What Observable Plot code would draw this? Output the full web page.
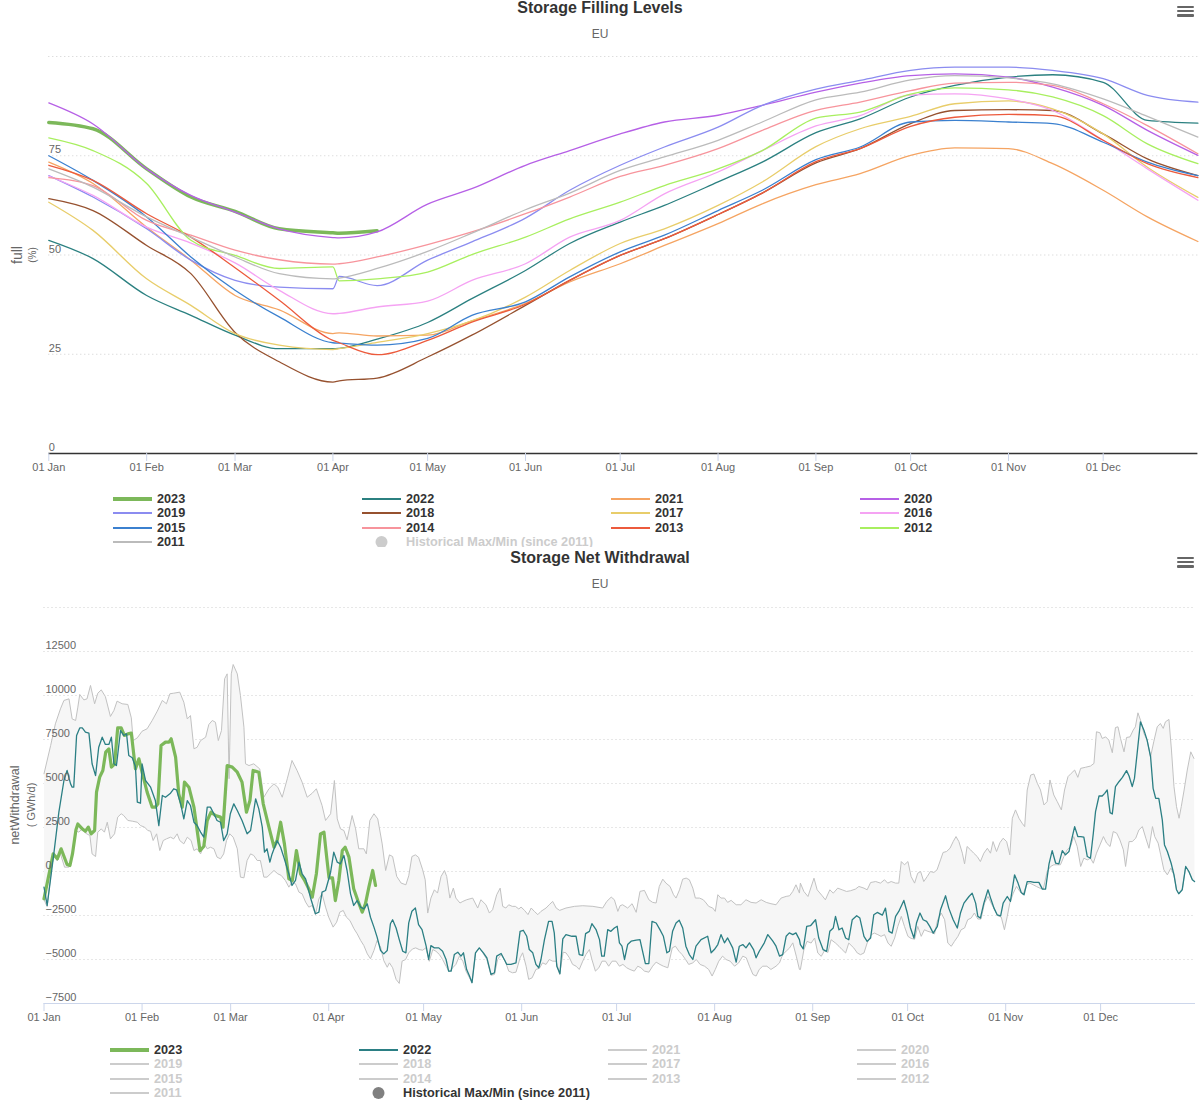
<!DOCTYPE html>
<html><head><meta charset="utf-8">
<script src="https://cdn.jsdelivr.net/npm/d3@7"></script>
<script src="https://cdn.jsdelivr.net/npm/@observablehq/plot@0.6"></script>
<style>
body{margin:0;background:#fff;font-family:"Liberation Sans",Arial,sans-serif;}
#root{position:relative;width:1200px;height:1105px;overflow:hidden;background:#fff;}
.abs{position:absolute;}
.ttl{left:0;width:1200px;text-align:center;font-weight:bold;font-size:16px;line-height:16px;color:#333;}
.sub{left:0;width:1200px;text-align:center;font-size:12px;line-height:14px;color:#666;}
.lg{font-weight:bold;font-size:12.7px;line-height:16px;white-space:nowrap;}
.yt{white-space:nowrap;color:#666;transform:translate(-50%,-50%) rotate(-90deg);}
</style></head><body><div id="root"></div>
<script>
// ---------- Storage Filling Levels (% full), sampled days of year ----------
const fillDays = [0,14,31,45,59,73,90,92,104,120,134,151,165,181,195,212,226,243,257,273,287,304,318,334,348,364];
const fill2023 = [83.4,81.8,71.7,64.6,61.0,56.6,55.6,55.5,56.1];
const fill2022 = [53.7,49.1,39.8,34.8,29.8,26.4,26.4,26.5,28.8,33.0,39.0,46.1,52.9,58.3,62.5,68.4,73.4,80.8,84.3,89.8,92.7,94.8,95.4,93.5,83.9,83.2];
const fill2021 = [73.4,68.0,57.0,48.7,39.8,36.2,30.2,30.4,29.6,29.8,33.4,37.8,43.2,47.8,52.4,57.9,62.9,67.7,70.5,75.1,77.0,76.8,73.0,66.3,59.6,53.4];
const fill2020 = [88.3,83.0,71.7,65.0,60.8,56.6,54.4,54.3,55.8,62.8,66.7,72.6,76.3,80.5,83.5,85.2,87.7,91.0,93.3,95.2,95.6,94.8,92.3,87.7,81.4,75.1];
const fill2019 = [70.0,64.6,56.6,48.7,43.6,41.9,41.5,44.6,42.3,48.7,53.3,59.3,66.3,72.6,77.2,82.2,87.7,91.8,94.0,96.5,97.3,97.3,96.5,94.4,90.2,88.5];
const fill2018 = [64.2,61.2,52.4,45.3,30.5,23.1,18.0,18.3,19.0,24.3,29.8,37.3,43.6,49.9,54.1,60.2,65.6,73.2,76.8,83.1,86.4,86.6,86.4,80.5,74.2,70.0];
const fill2017 = [63.3,56.2,44.0,37.3,30.2,27.3,26.2,26.4,28.0,30.2,33.4,39.4,46.1,52.9,56.6,62.5,68.4,77.3,81.8,84.9,88.1,88.8,86.8,80.5,72.1,64.5];
const fill2016 = [69.9,65.0,57.0,53.0,48.0,41.1,35.2,35.3,36.9,38.4,43.6,47.8,54.5,58.7,65.4,70.9,76.3,82.5,85.1,90.3,90.6,89.3,86.4,78.9,71.7,63.8];
const fill2015 = [75.0,68.8,59.6,49.5,41.1,34.4,27.9,27.8,27.3,29.0,34.8,38.2,44.5,50.8,55.0,61.2,66.3,74.0,77.2,83.5,83.9,83.5,83.1,78.4,73.4,70.0];
const fill2014 = [69.5,67.5,58.7,55.0,51.2,48.8,47.7,47.8,49.5,52.6,55.8,60.4,64.6,69.8,72.6,76.8,81.4,86.4,88.5,91.4,93.3,93.5,92.7,88.1,82.6,75.5];
const fill2013 = [72.6,68.8,60.4,54.5,46.8,38.6,28.5,27.9,24.9,28.5,33.1,37.6,43.6,49.9,54.1,60.2,65.6,73.5,76.8,82.4,84.7,85.4,85.1,78.9,73.0,69.5];
const fill2012 = [79.5,76.3,68.0,53.7,49.9,46.6,47.0,43.5,44.0,45.7,50.1,54.5,59.1,63.3,67.5,71.7,76.3,84.5,86.0,90.5,92.1,91.6,89.8,85.1,78.0,73.0];
const fill2011 = [71.7,67.1,59.6,54.5,49.5,45.3,44.0,44.2,46.6,50.9,55.5,61.4,65.6,71.3,74.7,78.9,83.5,89.1,91.0,94.1,95.2,94.6,93.1,89.3,84.9,79.7];
const fillGrid = [25,50,75,100];
const fillLabels = [0,25,50,75];

// ---------- Storage Net Withdrawal (GWh/d), [day of year, value] ----------
const nw2023 = [[0,-1550],[2.9,1000],[4.2,720],[5.4,1290],[7.3,400],[8.2,340],[9.0,1000],[10.1,2370],[10.7,2700],[12.1,2420],[13.1,2290],[14.0,2520],[14.9,2140],[16.0,2330],[16.6,4510],[17.6,5360],[18.6,5740],[19.5,6780],[20.5,6970],[21.3,5930],[22.3,6100],[23.3,8160],[24.4,8160],[25.4,7730],[26.5,7820],[27.6,7860],[28.9,5830],[30.0,6400],[31.0,5640],[32.6,4510],[34.2,3655],[35.2,3655],[36.0,3845],[37.0,7160],[38.4,7350],[39.5,7350],[40.2,7540],[41.6,6500],[42.6,4410],[43.7,3655],[44.4,5075],[45.8,4790],[47.4,3655],[49.3,1190],[50.5,1420],[51.6,2900],[52.8,3370],[54.2,3180],[55.8,3090],[56.6,2520],[57.9,6020],[59.5,5930],[61.1,5640],[62.6,5075],[64.0,3370],[65.1,4030],[66.1,5740],[67.9,5640],[69.3,3845],[71.1,2520],[72.7,1380],[73.7,1760],[74.8,2800],[76.0,1570],[77.4,-420],[78.5,-510],[79.8,1190],[81.1,-130],[82.4,-510],[83.7,-985],[84.8,-1460],[86.1,-130],[87.4,2140],[88.5,2235],[89.3,910],[90.1,-360],[91.2,-360],[92.1,-1650],[93.2,-510],[94.3,1190],[95.2,1380],[96.4,815],[97.9,-985],[99.2,-1650],[100.6,-2310],[101.6,-1840],[102.7,-890],[103.9,57],[104.8,-795]];

const nw2022 = [[0,-890],[1.0,-1930],[3.1,1000],[4.7,3370],[6.3,5170],[7.3,5740],[8.4,4980],[8.9,4790],[9.4,4790],[10.3,7730],[11.3,8160],[12.1,8160],[13.1,7920],[14.2,7860],[15.2,6120],[16.3,5450],[17.3,7060],[18.4,7630],[19.4,7220],[20.5,7220],[21.3,7630],[22.1,6120],[22.9,6020],[24.2,8010],[25.2,7730],[26.1,7820],[26.8,6590],[27.9,6460],[28.9,5970],[29.5,3940],[30.5,3880],[31.0,6120],[32.1,5170],[33.7,4790],[35.2,4030],[36.3,2610],[37.4,4320],[38.4,4220],[40.0,4450],[41.0,4700],[41.9,4640],[43.2,3845],[44.2,2990],[45.3,4030],[46.3,3750],[47.4,2800],[48.4,2610],[49.5,2235],[50.5,1950],[51.6,3655],[52.6,3655],[53.7,3280],[54.7,2900],[55.8,2800],[56.8,1760],[57.9,2140],[58.9,3280],[60.0,3845],[61.1,3465],[62.6,2900],[64.2,2140],[65.3,2330],[66.9,4130],[67.9,3560],[69.0,2520],[69.7,1100],[70.5,1290],[71.4,530],[72.1,1000],[73.7,1760],[74.8,1380],[75.8,815],[77.4,-130],[78.4,-795],[79.5,-510],[80.6,530],[81.6,-130],[82.7,-420],[84.2,-1460],[85.8,-2400],[86.9,-2310],[87.9,-1175],[89.0,-1080],[90.6,-40],[91.6,1100],[92.7,530],[93.7,435],[94.8,910],[95.8,57],[96.9,-1270],[97.9,-1930],[99.0,-1650],[100.1,-2025],[101.1,-2120],[102.2,-1840],[103.2,-2600],[104.3,-3160],[105.3,-3730],[106.4,-4490],[107.4,-4680],[108.5,-4490],[109.5,-2970],
[110.2,-2740],[111.3,-3210],[112.3,-3870],[113.4,-4530],[114.4,-4620],[115.3,-2920],[116.3,-2260],[117.4,-2075],[118.4,-3020],[119.5,-3300],[120.8,-4245],[121.6,-5000],[122.3,-4210],[123.4,-4340],[124.8,-4340],[126.0,-4530],[127.1,-5000],[127.9,-5660],[128.7,-5660],[129.7,-4720],[130.8,-4585],[131.8,-4810],[132.6,-4620],[133.6,-5570],[134.5,-5940],[135.3,-6320],[136.4,-4620],[137.6,-4340],[138.9,-4620],[140.0,-4905],[141.3,-5850],[142.4,-5755],[143.1,-4810],[144.5,-4660],[145.5,-5000],[146.3,-5280],[147.6,-5280],[149.2,-5190],[150.5,-3400],[151.5,-3340],[152.6,-3680],[153.4,-4435],[154.5,-4620],[155.5,-5280],[156.4,-5470],[157.1,-5000],[158.2,-3870],[159.5,-2830],[160.6,-2830],[161.3,-3490],[162.1,-5380],[163.1,-5810],[164.0,-3830],[165.0,-3585],[166.9,-3680],[168.2,-3680],[169.2,-4720],[170.3,-4770],[171.2,-3530],[172.4,-3400],[173.2,-2960],[174.5,-3300],[175.6,-3870],[176.3,-4810],[177.1,-4810],[178.2,-3300],[179.2,-3400],[180.3,-3210],[181.2,-3110],[181.9,-4055],[182.7,-4245],[183.5,-5000],[184.5,-4150],[185.6,-3960],[187.2,-3900],[188.4,-3870],[189.1,-4435],[190.1,-5230],[191.2,-5230],[192.2,-2830],[193.5,-2925],[194.7,-3300],[195.8,-3680],[196.9,-4620],[197.7,-4530],[198.7,-3400],[199.8,-2925],[200.8,-2770],[201.9,-3210],[202.9,-4245],[204.0,-4720],[205.1,-5000],[206.1,-4245],[207.7,-3870],[209.8,-3680],[210.9,-4620],[211.9,-4435],[213.0,-4150],[214.0,-3585],[215.1,-4055],[216.1,-3775],[217.7,-4340],[218.8,-5150],[219.8,-4245],[220.9,-4150],[221.9,-4340],[223.0,-4055],[224.3,-4435],[225.1,-4905],[226.1,-4530],[227.7,-4055],[228.8,-3585],[230.4,-3960],[231.4,-4245],[232.5,-4810],[233.5,-4720],[234.6,-3680],[235.6,-3490],[236.7,-3585],[237.7,-3490],[238.8,-3870],
[239.1,-4160],[240.0,-4400],[241.1,-3120],[242.3,-3080],[243.9,-2740],[244.9,-3780],[246.3,-4440],[247.4,-4535],[248.4,-3400],[249.5,-3210],[250.2,-2550],[251.3,-3310],[252.3,-3210],[253.4,-3780],[254.4,-3875],[255.5,-2740],[256.9,-2515],[257.9,-2645],[259.2,-3685],[260.2,-3970],[261.3,-3780],[262.3,-2460],[263.4,-2325],[265.0,-2480],[266.0,-2080],[267.1,-3400],[268.1,-3500],[269.2,-2550],[270.2,-2270],[271.8,-1645],[272.9,-2360],[273.9,-3210],[275.0,-3780],[275.8,-2930],[276.9,-2360],[277.9,-2740],[279.0,-2835],[280.0,-3120],[281.1,-3500],[282.4,-3120],[283.4,-2175],[285.0,-1380],[286.0,-2080],[287.4,-2740],[288.7,-3210],[289.7,-2360],[290.8,-1795],[292.4,-1420],[293.4,-1230],[294.5,-1795],[295.2,-2550],[296.0,-2645],[297.1,-1795],[298.4,-1040],[299.4,-1610],[300.3,-2080],[301.3,-2460],[302.4,-2515],[303.2,-1795],[304.5,-1420],[305.5,-1700],[306.8,-190],[307.9,-660],[308.9,-1190],[309.8,-1320],[310.8,-570],[311.9,-570],[312.9,-620],[314.5,-620],[315.6,-1000],[316.6,-1000],[317.7,435],[318.7,1190],[319.8,470],[320.8,435],[321.9,1190],[322.9,945],[324.0,1135],[324.7,1700],[325.8,2550],[326.8,1985],[327.7,1985],[328.7,1950],[329.8,850],[330.8,755],[331.7,2175],[332.4,3400],[333.5,4290],[334.5,4290],[335.3,4440],[336.1,4630],[337.0,3345],[337.7,3270],[338.7,4820],[339.8,5100],[340.9,5350],[342.2,5730],[343.0,5425],[344.0,4820],[344.7,5290],[345.6,6800],[346.6,8505],[347.7,8030],[348.7,7465],[349.8,6520],[350.6,4725],[351.4,4160],[352.4,4160],[353.5,2930],[354.2,1510],[355.1,1135],[356.3,470],[357.2,-190],[358.0,-1040],[358.7,-1265],[359.8,-1040],[360.9,285],[361.9,0],[363.0,-470],[363.7,-570]];

const histMax = [[0,5550],[2.1,7160],[3.6,8390],[5.2,9240],[6.3,9720],[7.9,9810],[8.9,8670],[10.0,8580],[10.7,9340],[11.3,10060],[12.6,9750],[13.6,9810],[14.7,10570],[16.0,9530],[17.0,10130],[18.1,10320],[19.4,9940],[21.0,8810],[22.1,9150],[23.1,9680],[24.7,9530],[26.5,9490],[27.6,8730],[28.2,7440],[29.5,7595],[31.0,7970],[32.6,8110],[34.2,8580],[35.8,9110],[37.4,9720],[38.7,9530],[39.8,10100],[41.0,10130],[42.9,10190],[44.2,9620],[45.3,8670],[46.3,8860],[47.4,6970],[48.4,7060],[49.5,7440],[51.1,7630],[52.1,8350],[53.2,8580],[54.2,8480],[55.1,7440],[56.1,8010],[57.1,10950],[57.9,11230],[58.5,5270],[59.2,11230],[59.8,11760],[61.1,11230],[62.1,10000],[63.2,8200],[63.7,6120],[64.8,6020],[66.3,6120],[68.2,5830],[69.5,4220],[71.1,4700],[72.7,4980],[73.9,4790],[75.3,4220],[76.9,5265],[78.4,6310],[80.0,5740],[81.6,5075],[83.2,4220],[84.8,4450],[86.1,4700],[87.9,3750],[89.0,2900],[90.6,3280],[91.8,5170],[92.7,2990],[93.7,2425],[94.8,2330],[95.8,1800],[97.4,3180],[98.5,2425],[99.5,1290],[101.1,1290],[101.9,1000],[103.0,2900],[104.3,3280],[105.5,2990],[106.9,1570],[108.0,57],
[109.2,945],[110.2,850],[111.5,-280],[112.9,-660],[114.4,-755],[115.3,-245],[116.3,850],[117.4,945],[118.4,810],[119.7,95],[120.5,-470],[121.3,-2360],[122.3,-1510],[123.4,-1040],[124.4,-1225],[125.5,-285],[126.6,55],[127.3,-285],[128.3,-1510],[129.4,-945],[130.2,-1510],[131.5,-1790],[132.4,-1700],[133.6,-1605],[135.5,-1510],[137.1,-2075],[138.1,-1605],[139.7,-1890],[140.8,-2360],[141.8,-2170],[143.1,-1320],[144.2,-945],[145.0,-1980],[146.0,-2075],[146.9,-1890],[148.0,-1980],[149.0,-1980],[150.1,-2130],[150.8,-2020],[151.9,-2210],[153.0,-2450],[154.0,-2075],[155.0,-2265],[156.1,-2450],[157.1,-2265],[158.7,-2075],[159.7,-1890],[160.8,-1700],[161.9,-2075],[163.0,-2210],[165.0,-2075],[167.7,-1980],[170.3,-1945],[173.5,-1980],[176.6,-2075],[177.9,-1700],[179.3,-1455],[180.3,-1605],[181.4,-2265],[182.1,-1945],[182.9,-1890],[184.5,-2075],[185.9,-1830],[187.2,-2320],[188.4,-1130],[189.8,-1075],[191.2,-1605],[192.4,-1755],[193.5,-1790],[194.5,-850],[195.6,-435],[196.6,-660],[197.9,-850],[199.0,-1320],[199.8,-1510],[200.9,-1040],[201.9,-435],[203.0,-375],[204.0,-470],[205.1,-945],[205.9,-1510],[207.2,-1510],[208.4,-1605],[209.3,-1790],[210.1,-1980],[211.4,-2075],[212.2,-2265],[213.0,-1320],[214.0,-1510],[215.1,-1510],[216.1,-1755],[217.2,-1640],[218.8,-1890],[220.3,-1890],[221.9,-1605],[223.5,-1755],[225.1,-1790],[226.7,-1605],[228.3,-1755],[229.8,-1830],[231.4,-1890],[233.0,-1510],[234.6,-1415],[235.7,-1380],[236.7,-1130],[237.7,-755],[238.8,-1225],
[239.1,-660],[240.2,-1135],[241.5,-1420],[243.4,-380],[244.4,-1040],[246.0,-1380],[247.0,-1610],[248.4,-1040],[249.5,-1230],[250.9,-945],[252.3,-1040],[253.7,-1135],[254.9,-1095],[256.5,-1000],[257.6,-850],[259.2,-945],[260.2,-1040],[261.3,-625],[262.9,-570],[264.4,-660],[265.7,-470],[266.7,-660],[267.8,-570],[269.2,-660],[270.2,-660],[271.0,565],[272.0,380],[273.1,565],[274.1,-285],[275.2,-660],[276.2,-95],[277.1,0],[278.1,-570],[279.2,-285],[280.2,0],[281.3,-55],[282.3,95],[283.4,660],[284.2,1080],[285.3,1135],[286.4,1320],[287.4,1700],[288.3,1985],[289.2,1700],[290.3,1040],[291.0,435],[291.8,1420],[292.9,1230],[293.9,1040],[295.0,850],[296.0,565],[297.1,1040],[298.2,1320],[299.2,1040],[300.0,1700],[301.1,1135],[302.2,1645],[303.2,1890],[304.3,1700],[305.3,945],[306.1,3025],[307.1,3500],[308.2,3025],[309.2,2740],[310.0,2550],[310.8,4630],[311.9,5480],[312.9,5540],[314.0,5010],[315.0,4630],[316.1,3780],[317.1,3970],[318.0,5200],[319.2,4350],[320.3,3970],[321.6,3500],[322.6,4630],[323.7,5390],[324.7,5575],[325.8,5765],[326.8,5350],[327.7,5860],[329.2,5920],[330.8,5990],[331.9,6140],[332.7,7940],[333.8,7880],[334.5,7560],[335.6,7650],[336.6,7465],[337.7,6750],[338.7,8180],[339.5,8220],[340.3,7560],[341.4,6800],[342.2,7615],[343.3,7650],[344.3,8030],[345.0,8220],[345.8,9015],[346.8,8505],[347.7,7840],[348.7,7465],[349.8,6520],[350.8,7370],[351.9,8220],[352.9,8410],[353.8,8130],[354.5,8505],[355.6,8640],[356.4,6900],[357.2,4820],[358.0,3685],[358.8,3025],[359.5,3685],[360.4,4630],[361.4,5765],[362.5,6800],[363.5,6425]];

const histMin = [[0,-1600],[1.0,-2000],[2.9,1000],[4.2,600],[5.2,1000],[6.5,245],[7.9,250],[8.9,900],[10.0,2330],[11.0,2235],[12.1,2420],[13.1,2180],[14.5,2045],[15.2,1000],[16.3,850],[17.0,2235],[18.1,2420],[19.1,2235],[20.0,2800],[21.0,1855],[22.3,2140],[23.3,3090],[24.4,3280],[25.2,3180],[26.5,2900],[27.9,2860],[29.5,2800],[30.5,2610],[31.8,2520],[32.8,2330],[33.7,2290],[34.5,1760],[35.6,2140],[36.6,1190],[37.7,1760],[38.7,1855],[40.0,1950],[41.0,1855],[42.1,2140],[42.9,1760],[44.2,1570],[45.3,1950],[46.5,1760],[47.4,1190],[48.4,1290],[49.5,1000],[50.7,1570],[51.6,1290],[52.6,1380],[53.7,1290],[54.7,815],[55.8,720],[56.8,1000],[57.7,1760],[58.7,2140],[59.8,1950],[61.1,1290],[62.1,-320],[63.2,-360],[64.2,625],[65.3,1000],[66.3,910],[67.4,625],[68.4,625],[69.5,-320],[70.5,-320],[71.6,-130],[72.7,57],[73.9,-130],[75.0,-225],[76.3,-510],[77.4,-890],[78.4,-605],[79.5,-700],[80.6,-1175],[81.6,-1270],[82.7,-1740],[83.7,-2025],[84.8,-1930],[85.8,-2450],[86.9,-1555],[87.9,-1270],[89.0,-2025],[90.0,-2595],[91.4,-3160],[92.5,-2880],[93.5,-2310],[94.6,-2215],[95.6,-2595],[96.7,-2785],[98.0,-3255],[99.0,-3540],[100.1,-3920],[101.1,-4205],[102.2,-4680],[103.2,-4960],[104.3,-4490],[105.3,-3920],[106.4,-4300],[107.4,-5060],[108.5,-5440],
[109.2,-5190],[110.2,-5470],[111.3,-6130],[112.3,-6360],[113.2,-5095],[114.3,-5000],[115.3,-4620],[116.5,-4400],[117.5,-4340],[118.6,-4435],[119.7,-4470],[120.7,-4340],[121.8,-5100],[122.9,-4435],[123.9,-4530],[125.0,-4720],[126.0,-5000],[127.1,-5380],[128.1,-5700],[129.2,-5470],[130.2,-5280],[131.3,-4810],[132.4,-5095],[133.4,-5660],[134.5,-6040],[135.3,-6320],[136.4,-4620],[137.6,-4340],[138.7,-4620],[140.0,-5000],[141.3,-5900],[142.4,-5850],[143.4,-5000],[144.5,-4720],[145.8,-5095],[146.9,-5660],[148.1,-5755],[149.2,-5720],[150.5,-4905],[151.3,-4620],[152.4,-5380],[153.2,-6130],[154.3,-6040],[155.5,-5565],[156.6,-5500],[157.6,-5190],[158.7,-5280],[159.7,-5000],[160.8,-5095],[161.9,-5095],[163.0,-5850],[164.1,-4585],[165.0,-4620],[166.1,-4905],[167.1,-5280],[168.2,-5380],[169.2,-5565],[170.3,-5095],[171.3,-4720],[172.4,-4435],[173.2,-5000],[174.3,-5660],[175.4,-5470],[176.4,-5095],[177.5,-5095],[178.5,-5380],[179.6,-5095],[180.8,-5095],[181.9,-5380],[183.0,-5280],[184.2,-5470],[185.2,-5565],[186.6,-5660],[187.7,-5380],[188.7,-5470],[189.8,-5660],[191.2,-5720],[192.4,-5380],[193.5,-5150],[194.7,-5280],[195.8,-5380],[197.2,-5470],[198.6,-4340],[199.6,-4245],[200.7,-4530],[201.7,-4720],[202.8,-5000],[203.8,-5280],[205.1,-5190],[206.2,-5000],[207.4,-5280],[208.8,-5380],[210.1,-5565],[211.2,-5940],[212.2,-5565],[213.3,-5095],[214.5,-4810],[215.6,-5000],[216.9,-5095],[218.3,-5380],[219.6,-5190],[220.9,-4810],[222.0,-4905],[223.0,-5380],[224.1,-5850],[225.1,-5940],[226.1,-5565],[227.2,-5380],[228.5,-5380],[229.8,-5565],[231.4,-5380],[232.5,-5190],[233.5,-4720],[234.6,-4530],[235.7,-4340],[236.7,-4055],[237.8,-4810],[238.8,-5565],
[239.1,-5575],[240.2,-4450],[241.2,-3970],[242.5,-4065],[243.6,-3780],[244.6,-4630],[245.7,-4820],[246.7,-4500],[247.8,-4600],[248.8,-3875],[250.2,-4065],[251.3,-4250],[252.3,-4440],[253.4,-4630],[254.4,-4065],[256.0,-4350],[257.1,-4630],[258.1,-4725],[259.2,-4630],[260.2,-4065],[261.5,-3590],[262.5,-3500],[263.6,-3590],[264.6,-3685],[265.7,-3590],[266.8,-4065],[267.8,-4250],[268.9,-3780],[269.9,-3120],[271.0,-2550],[272.0,-3120],[273.1,-3685],[274.1,-3800],[275.2,-3850],[276.2,-3120],[277.3,-3685],[278.3,-3310],[279.4,-3400],[280.4,-3450],[281.5,-3550],[282.5,-2740],[283.6,-2360],[284.7,-2740],[285.7,-4065],[286.8,-4250],[287.8,-3970],[288.9,-3685],[289.9,-3310],[291.0,-3210],[292.0,-2740],[293.1,-2645],[294.1,-2360],[295.2,-2700],[296.2,-2700],[297.3,-1795],[298.4,-1420],[299.4,-1795],[300.5,-2175],[301.5,-2520],[302.6,-2590],[303.6,-3310],[304.5,-2550],[305.3,-1795],[306.4,-1230],[307.4,-850],[308.5,-1135],[309.5,-1320],[310.6,-755],[311.6,-660],[312.7,-755],[313.7,-850],[314.8,-945],[315.9,-1000],[317.1,0],[318.2,285],[319.2,380],[320.3,380],[321.3,380],[322.4,850],[323.4,1230],[324.5,1420],[325.5,1985],[326.6,1420],[327.7,285],[328.7,755],[329.8,660],[330.8,755],[331.7,470],[332.7,1040],[333.8,1510],[334.9,1985],[335.9,1610],[337.0,1420],[338.0,2270],[339.1,2175],[340.1,1795],[341.2,1230],[341.9,285],[343.0,1700],[344.0,1700],[345.1,1890],[346.1,2360],[347.2,2550],[348.3,1890],[349.3,1320],[350.4,2550],[351.1,1985],[352.2,1610],[353.0,945],[354.0,95],[355.1,-190],[356.2,190],[357.2,-190],[358.0,-1040],[358.7,-1265],[359.8,-1040],[360.9,285],[361.9,0],[363.0,-470],[363.7,-570]];
const nwGrid = [-5000,-2500,0,2500,5000,7500,10000,12500,15000];
const nwLabels = [-7500,-5000,-2500,0,2500,5000,7500,10000,12500];

const legendYears = ["2023","2022","2021","2020","2019","2018","2017","2016","2015","2014","2013","2012","2011"];
const yearColors = {"2023":"#7cb85a","2022":"#2b8080","2021":"#f5a462","2020":"#b660e6","2019":"#8b8cf0","2018":"#96512f","2017":"#e8cd6a","2016":"#f5a3f3","2015":"#3b80cf","2014":"#f7949c","2013":"#ec5a3c","2012":"#a8ef5f","2011":"#bbbbbb"};
const histLabel = "Historical Max/Min (since 2011)";

// ---------- helpers ----------
const t0 = Date.UTC(2022, 0, 1);
const toDate = d => new Date(t0 + d * 864e5);
const monthTicks = d3.utcMonth.range(new Date(t0), new Date(Date.UTC(2022, 11, 31)));
const fmtDay = d3.utcFormat("%d %b");
const fmtNum = v => v < 0 ? "\u2212" + Math.abs(v) : String(v);
const FONT = '"Liberation Sans", Arial, sans-serif';
const root = document.getElementById("root");

function el(parent, tag, cls, css, text) {
  const e = document.createElement(tag);
  if (cls) e.className = cls;
  Object.assign(e.style, css || {});
  if (text != null) e.textContent = text;
  parent.appendChild(e);
  return e;
}
function hamburger(parent, x, y) {
  [0, 4.4, 8.8].forEach(o => el(parent, "div", "abs", {left: x + "px", top: (y + o) + "px", width: "17px", height: "2.5px", background: "#666", borderRadius: "1px"}));
}
const svgNS = "http://www.w3.org/2000/svg";
function legend(parent, colX, rowY, items) {
  items.forEach((it, i) => {
    const c = i % 4, r = Math.floor(i / 4);
    const x = colX[c], y = rowY[r];
    const s = document.createElementNS(svgNS, "svg");
    s.setAttribute("width", 40); s.setAttribute("height", 14);
    Object.assign(s.style, {position: "absolute", left: x + "px", top: (y - 7) + "px"});
    if (it.circle) {
      const ci = document.createElementNS(svgNS, "circle");
      ci.setAttribute("cx", 19.5); ci.setAttribute("cy", 7); ci.setAttribute("r", 6);
      ci.setAttribute("fill", it.color); s.appendChild(ci);
    } else {
      const ln = document.createElementNS(svgNS, "line");
      ln.setAttribute("x1", 0); ln.setAttribute("x2", 39); ln.setAttribute("y1", 7); ln.setAttribute("y2", 7);
      ln.setAttribute("stroke", it.color); ln.setAttribute("stroke-width", it.w);
      s.appendChild(ln);
    }
    parent.appendChild(s);
    el(parent, "div", "abs lg", {left: (x + 44) + "px", top: (y - 8) + "px", color: it.text}, it.label);
  });
}
function yTitle(parent, x1, x2, cy, t1, t2, f1, f2) {
  el(parent, "div", "abs yt", {left: x1 + "px", top: cy + "px", fontSize: f1 + "px"}, t1);
  el(parent, "div", "abs yt", {left: x2 + "px", top: cy + "px", fontSize: f2 + "px"}, t2);
}

// ---------- top chart ----------
const topBox = el(root, "div", "abs", {left: "0px", top: "0px", width: "1200px", height: "547px", overflow: "hidden"});
el(topBox, "div", "abs ttl", {top: "0px"}, "Storage Filling Levels");
el(topBox, "div", "abs sub", {top: "27px"}, "EU");
hamburger(topBox, 1177, 5.5);
yTitle(topBox, 17, 31.5, 254.5, "full", "(%)", 14, 10);

const fillSeries = {"2023":fill2023,"2022":fill2022,"2021":fill2021,"2020":fill2020,"2019":fill2019,"2018":fill2018,"2017":fill2017,"2016":fill2016,"2015":fill2015,"2014":fill2014,"2013":fill2013,"2012":fill2012,"2011":fill2011};
const fillLines = legendYears.map(y => Plot.line(
  fillSeries[y].map((v, i) => ({date: toDate(fillDays[i]), v})),
  {x: "date", y: "v", stroke: yearColors[y], strokeWidth: y === "2023" ? 3.5 : 1.3, curve: "monotone-x"}
));

const topPlot = Plot.plot({
  width: 1200, height: 480,
  marginLeft: 48.3, marginRight: 2.6, marginTop: 56, marginBottom: 27,
  style: {fontFamily: FONT, background: "transparent", overflow: "visible"},
  x: {type: "utc", domain: [toDate(0), toDate(364)]},
  y: {domain: [0, 100], axis: null},
  marks: [
    Plot.ruleY(fillGrid, {stroke: "#cfcfcf", strokeDasharray: "1,3"}),
    ...fillLines,
    Plot.ruleY([0], {stroke: "#333", strokeWidth: 1.6}),
    Plot.axisX(monthTicks, {tickSize: 8, tickPadding: 2, tickFormat: fmtDay, stroke: "#ccd6eb", fill: "#666", fontSize: 11}),
    Plot.text(fillLabels, {y: d => d, frameAnchor: "left", textAnchor: "start", dy: -6, text: d => String(d), fill: "#666", fontSize: 11})
  ]
});
Object.assign(topPlot.style, {position: "absolute", left: "0px", top: "0px"});
topBox.appendChild(topPlot);

legend(topBox, [113, 362, 611, 860], [498.5, 513, 527.5, 542],
  legendYears.map(y => ({label: y, color: yearColors[y], w: y === "2023" ? 4 : 2, text: "#333"}))
    .concat([{label: histLabel, color: "#cccccc", circle: true, text: "#cccccc"}]));

// ---------- bottom chart ----------
const botBox = el(root, "div", "abs", {left: "0px", top: "547px", width: "1200px", height: "558px"});
el(botBox, "div", "abs ttl", {top: "3px"}, "Storage Net Withdrawal");
el(botBox, "div", "abs sub", {top: "30px"}, "EU");
hamburger(botBox, 1177, 9.5);
yTitle(botBox, 15, 30.5, 258, "netWithdrawal", "( GWh/d)", 12.5, 11);

const toRows = arr => arr.map(([d, v]) => ({date: toDate(d), v}));
const bandPoly = toRows(histMax).concat(toRows(histMin).reverse());

const botPlot = Plot.plot({
  width: 1200, height: 483,
  marginLeft: 43.5, marginRight: 5, marginTop: 60, marginBottom: 27,
  style: {fontFamily: FONT, background: "transparent", overflow: "visible"},
  x: {type: "utc", domain: [toDate(0), toDate(364)]},
  y: {domain: [-7500, 15000], axis: null},
  marks: [
    Plot.ruleY(nwGrid, {stroke: "#cfcfcf", strokeDasharray: "1,3"}),
    Plot.line(bandPoly, {x: "date", y: "v", fill: "#f6f6f6", stroke: "none", curve: "linear"}),
    Plot.line(toRows(histMax), {x: "date", y: "v", stroke: "#c2c2c2", strokeWidth: 1}),
    Plot.line(toRows(histMin), {x: "date", y: "v", stroke: "#c2c2c2", strokeWidth: 1}),
    Plot.line(toRows(nw2023), {x: "date", y: "v", stroke: yearColors["2023"], strokeWidth: 3.2}),
    Plot.line(toRows(nw2022), {x: "date", y: "v", stroke: "#2b7f84", strokeWidth: 1.3}),
    Plot.ruleY([-7500], {stroke: "#ccd6eb", strokeWidth: 1}),
    Plot.axisX(monthTicks, {tickSize: 8, tickPadding: 2, tickFormat: fmtDay, stroke: "#ccd6eb", fill: "#666", fontSize: 11}),
    Plot.text(nwLabels, {y: d => d, frameAnchor: "left", textAnchor: "start", dx: 1.5, dy: -6, text: fmtNum, fill: "#666", fontSize: 11})
  ]
});
Object.assign(botPlot.style, {position: "absolute", left: "0px", top: "0px"});
botBox.appendChild(botPlot);

legend(botBox, [110, 359, 608, 857], [502.5, 517, 531.5, 546],
  legendYears.map(y => (y === "2023" || y === "2022")
      ? {label: y, color: y === "2023" ? yearColors["2023"] : "#2b7f84", w: y === "2023" ? 4 : 2, text: "#333"}
      : {label: y, color: "#cccccc", w: 2, text: "#cccccc"})
    .concat([{label: histLabel, color: "#808080", circle: true, text: "#333"}]));
</script></body></html>
